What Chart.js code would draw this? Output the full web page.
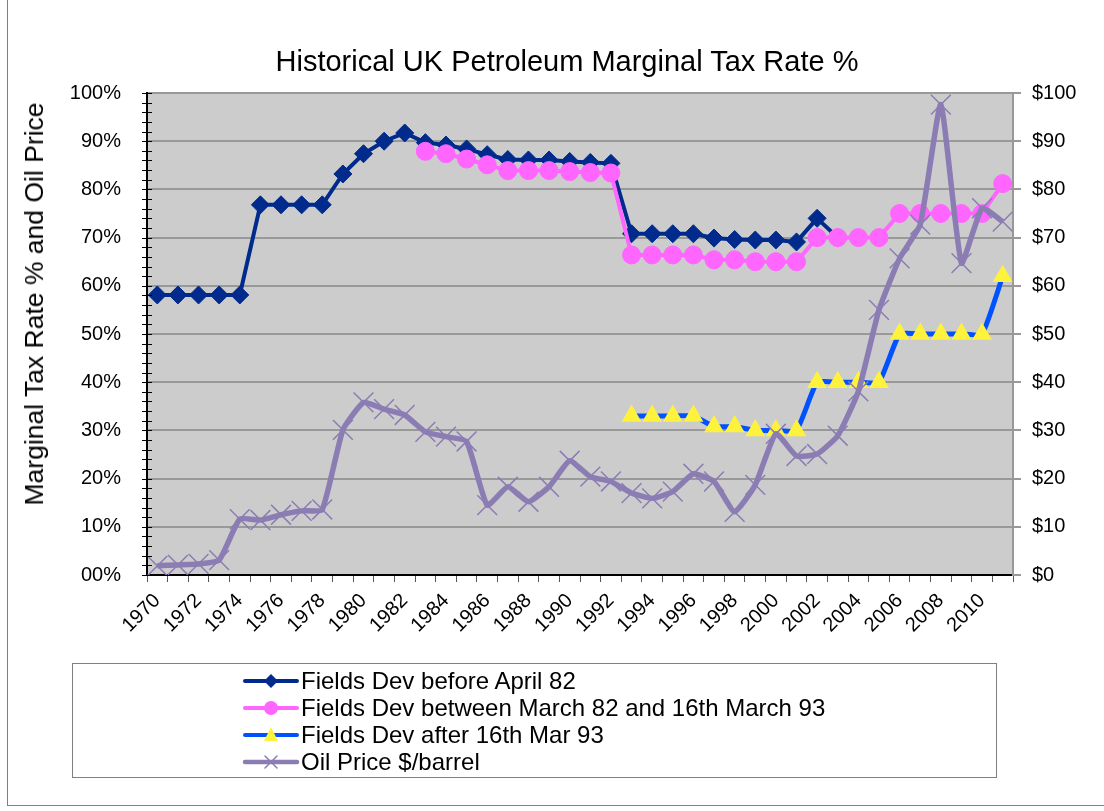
<!DOCTYPE html>
<html lang="en">
<head>
  <meta charset="UTF-8">
  <title>Historical UK Petroleum Marginal Tax Rate %</title>
  <script src="https://cdn.jsdelivr.net/npm/chart.js"></script>
  <style>
    html, body { margin: 0; padding: 0; background: #fff; }
    body { width: 1104px; height: 811px; position: relative; overflow: hidden;
           font-family: "Liberation Sans", Arial, sans-serif; color: #000; }
    #chart { position: absolute; left: 0; top: 0; }
    #frame { position: absolute; left: 7px; top: -2px; width: 1200px; height: 807px;
             border-left: 1px solid #808080; border-bottom: 1px solid #808080; }
    #title { position: absolute; left: 0; top: 47px; width: 1134px; text-align: center;
             font-size: 29px; line-height: 29px; white-space: nowrap; }
    #ytitle { position: absolute; left: 34px; top: 304px; font-size: 26.5px; line-height: 26px;
              white-space: nowrap; transform: translate(-50%, -50%) rotate(-90deg); }
    #legend { position: absolute; left: 72px; top: 663px; width: 925px; height: 115px;
              box-sizing: border-box; border: 1px solid #808080; background: #fff; }
    .row { position: absolute; left: 169px; height: 27px; display: flex; align-items: center;
           font-size: 24px; white-space: nowrap; }
    .row canvas { display: block; margin-right: 1px; }
  </style>
</head>
<body>
  <div id="frame"></div>
  <canvas id="chart" width="1104" height="811"></canvas>
  <div id="title">Historical UK Petroleum Marginal Tax Rate %</div>
  <div id="ytitle">Marginal Tax Rate % and Oil Price</div>
  <div id="legend"></div>

  <script>
    const years = [1970, 1971, 1972, 1973, 1974, 1975, 1976, 1977, 1978, 1979,
                   1980, 1981, 1982, 1983, 1984, 1985, 1986, 1987, 1988, 1989,
                   1990, 1991, 1992, 1993, 1994, 1995, 1996, 1997, 1998, 1999,
                   2000, 2001, 2002, 2003, 2004, 2005, 2006, 2007, 2008, 2009,
                   2010, 2011];

    // marginal tax rate, %
    const beforeApril82 = [58.1, 58.1, 58.1, 58.1, 58.1, 76.8, 76.8, 76.8, 76.8, 83.2,
                           87.4, 90.0, 91.7, 89.7, 89.2, 88.4, 87.2, 86.2, 86.1, 86.1,
                           85.8, 85.6, 85.4, 70.8, 70.8, 70.8, 70.8, 69.9, 69.6, 69.5,
                           69.5, 69.1, 74.0, 70.0, null, null, null, null, null, null,
                           null, null];
    const march82To93 = [null, null, null, null, null, null, null, null, null, null,
                         null, null, null, 87.9, 87.4, 86.3, 85.1, 83.9, 83.9, 83.9,
                         83.7, 83.5, 83.4, 66.4, 66.4, 66.4, 66.4, 65.4, 65.4, 65.0,
                         65.0, 65.0, 70, 70, 70, 70, 75, 75, 75, 75,
                         75, 81.2];
    const after93 = [null, null, null, null, null, null, null, null, null, null,
                     null, null, null, null, null, null, null, null, null, null,
                     null, null, null, 33, 33, 33, 33, 30.8, 30.8, 30,
                     30, 30, 40, 40, 40, 40, 50, 50, 50, 50,
                     50, 62];
    // oil price, $/barrel (right axis)
    const oilPrice = [1.9, 2.1, 2.3, 3.1, 11.6, 11.4, 12.5, 13.3, 13.6, 30.1,
                      35.8, 34.4, 33.2, 29.7, 28.7, 27.7, 14.5, 18.3, 15.2, 18.3,
                      23.7, 20.4, 19.4, 17.0, 15.9, 17.3, 21.0, 19.4, 13.1, 18.7,
                      29.3, 24.7, 25.1, 28.9, 38.1, 55.0, 65.7, 72.7, 97.6, 64.7,
                      76.1, 73.3];

    const seriesNames = ['Fields Dev before April 82',
                         'Fields Dev between March 82 and 16th March 93',
                         'Fields Dev after 16th Mar 93',
                         'Oil Price $/barrel'];

    const NAVY = '#002a8c', PINK = '#ff66ff', BLUE = '#0052ff', YELLOW = '#fff23c', PURPLE = '#8b7db3';
    const FONT = '"Liberation Sans", Arial, sans-serif';

    const plotBg = {
      id: 'plotBg',
      beforeDraw(chart) {
        const { ctx, chartArea: a } = chart;
        ctx.save();
        ctx.fillStyle = '#cccccc';
        ctx.fillRect(a.left, a.top, a.right - a.left, a.bottom - a.top);
        ctx.restore();
      }
    };

    // small ticks across the left axis every 2%
    const minorTicks = {
      id: 'minorTicks',
      afterDraw(chart) {
        const s = chart.scales.y, ctx = chart.ctx;
        ctx.save();
        ctx.strokeStyle = '#000';
        ctx.lineWidth = 1;
        ctx.beginPath();
        for (let v = s.min; v <= s.max; v += 2) {
          const y = Math.round(s.getPixelForValue(v)) + 0.5;
          ctx.moveTo(s.right - 5, y);
          ctx.lineTo(s.right + 5, y);
        }
        ctx.stroke();
        ctx.restore();
      }
    };

    new Chart(document.getElementById('chart'), {
      type: 'line',
      data: {
        labels: years,
        datasets: [
          { label: seriesNames[0], data: beforeApril82, yAxisID: 'y', order: 4,
            borderColor: NAVY, backgroundColor: NAVY, borderWidth: 4, tension: 0,
            pointStyle: 'rectRot', pointRadius: 9, pointBorderWidth: 1 },
          { label: seriesNames[1], data: march82To93, yAxisID: 'y', order: 3,
            borderColor: PINK, backgroundColor: PINK, borderWidth: 4, tension: 0,
            pointStyle: 'circle', pointRadius: 9, pointBorderWidth: 1 },
          { label: seriesNames[2], data: after93, yAxisID: 'y', order: 2,
            borderColor: BLUE, backgroundColor: YELLOW, borderWidth: 5, tension: 0.15,
            pointStyle: 'triangle', pointRadius: 11.5, pointBorderWidth: 0,
            pointBorderColor: YELLOW },
          { label: seriesNames[3], data: oilPrice, yAxisID: 'y2', order: 1,
            borderColor: PURPLE, backgroundColor: PURPLE, borderWidth: 5.5, tension: 0.15,
            pointStyle: 'crossRot', pointRadius: 14, pointBorderWidth: 1.5 }
        ]
      },
      options: {
        responsive: false,
        animation: false,
        layout: { padding: { top: 93, left: 0, right: 0, bottom: 0 } },
        plugins: {
          legend: { display: false },
          title: { display: false },
          tooltip: { enabled: false }
        },
        scales: {
          x: {
            type: 'category',
            offset: true,
            grid: { offset: true, drawOnChartArea: false, drawTicks: true, tickLength: 7,
                    color: '#555', lineWidth: 1 },
            border: { color: '#000', width: 2 },
            ticks: {
              autoSkip: false, maxRotation: 45, minRotation: 45, padding: 7, color: '#000',
              font: { family: FONT, size: 20 },
              callback: (v, i) => (years[i] % 2 === 0 ? String(years[i]) : '')
            },
            afterFit: s => { s.height = 236; }
          },
          y: {
            position: 'left', min: 0, max: 100,
            grid: { drawTicks: false, lineWidth: 2,
                    color: c => (c.tick && c.tick.value === 0 ? '#000' : '#999') },
            border: { color: '#000', width: 2 },
            ticks: { stepSize: 10, padding: 26, color: '#000',
                     font: { family: FONT, size: 20 },
                     callback: v => (v === 0 ? '00' : v) + '%' },
            afterFit: s => { s.width = 147; }
          },
          y2: {
            position: 'right', min: 0, max: 100,
            grid: { drawOnChartArea: false, drawTicks: true, tickLength: 8,
                    color: '#999', lineWidth: 2 },
            border: { color: '#999', width: 2 },
            ticks: { stepSize: 10, padding: 11, color: '#000',
                     font: { family: FONT, size: 20 },
                     callback: v => '$' + v },
            afterFit: s => { s.width = 91; }
          }
        }
      },
      plugins: [plotBg, minorTicks]
    });

    // legend, drawn as html rows with small line samples
    const samples = [
      { line: NAVY, width: 4, marker: 'diamond', fill: NAVY },
      { line: PINK, width: 4, marker: 'circle', fill: PINK },
      { line: BLUE, width: 4, marker: 'triangle', fill: YELLOW },
      { line: PURPLE, width: 4.5, marker: 'cross', fill: PURPLE }
    ];
    const rowTops = [3, 30, 57, 84];
    const legend = document.getElementById('legend');
    seriesNames.forEach((name, i) => {
      const row = document.createElement('div');
      row.className = 'row';
      row.style.top = rowTops[i] + 'px';
      const c = document.createElement('canvas');
      c.width = 58; c.height = 24;
      const g = c.getContext('2d');
      const s = samples[i];
      g.strokeStyle = s.line; g.lineWidth = s.width; g.lineCap = 'round';
      g.beginPath(); g.moveTo(3, 12); g.lineTo(55, 12); g.stroke();
      g.fillStyle = s.fill;
      g.beginPath();
      if (s.marker === 'diamond') {
        g.moveTo(29, 5); g.lineTo(36, 12); g.lineTo(29, 19); g.lineTo(22, 12); g.closePath(); g.fill();
      } else if (s.marker === 'circle') {
        g.arc(29, 12, 7, 0, Math.PI * 2); g.fill();
      } else if (s.marker === 'triangle') {
        g.moveTo(29, 4); g.lineTo(36, 18); g.lineTo(22, 18); g.closePath(); g.fill();
      } else {
        g.strokeStyle = s.fill; g.lineWidth = 1.5;
        g.moveTo(23, 6); g.lineTo(35, 18); g.moveTo(35, 6); g.lineTo(23, 18); g.stroke();
      }
      const t = document.createElement('span');
      t.textContent = name;
      row.appendChild(c);
      row.appendChild(t);
      legend.appendChild(row);
    });
  </script>
</body>
</html>
